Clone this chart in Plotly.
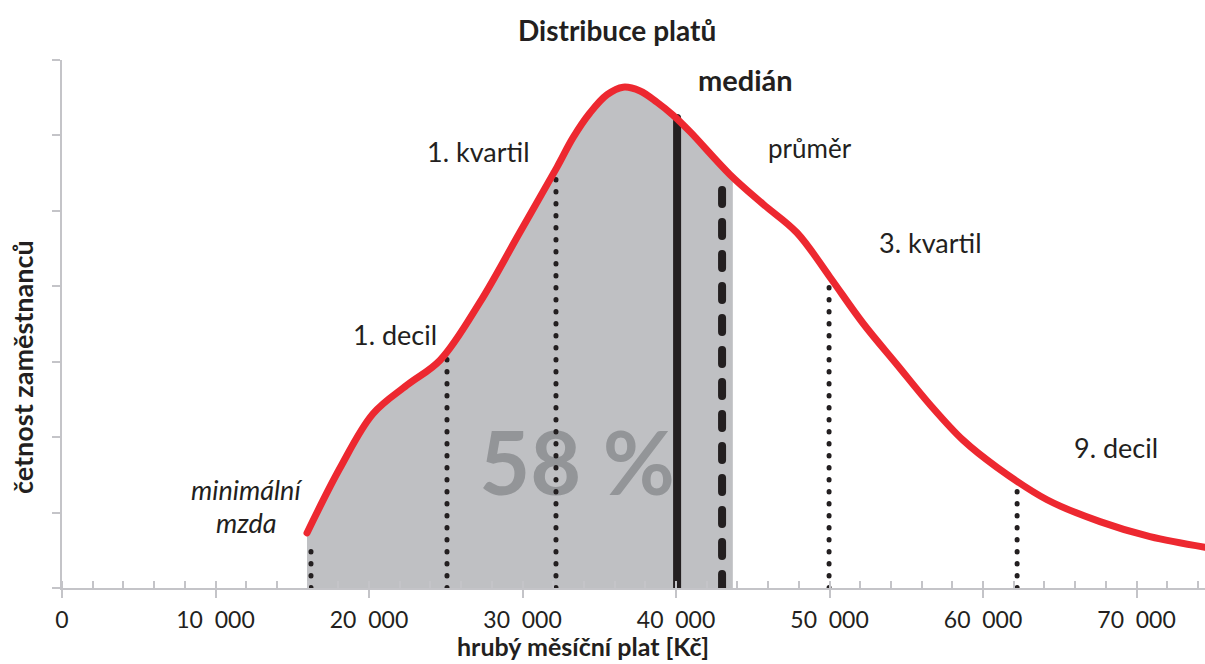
import plotly.graph_objects as go
import numpy as np

# ---- data ----
salary = [15960, 18110, 20260, 22480, 24630, 27230, 29840, 32250, 33290, 34400,
          35510, 36550, 37660, 38760, 39800, 40910, 43520, 45670, 47880, 50030,
          52180, 54400, 56550, 58700, 60910, 64170, 67620, 70880, 74460]
frequency = [73, 159, 231, 269, 302, 379, 472, 558, 597, 630,
             654, 664, 659, 644, 627, 605, 548, 509, 471, 412,
             351, 296, 243, 196, 160, 117, 88, 68, 54]

marker_names = ["minimální mzda", "1. decil", "1. kvartil", "medián", "průměr", "3. kvartil", "9. decil"]
marker_salary = [16220, 25080, 32180, 40070, 43000, 49970, 62220]
marker_height = [53, 306, 544, 623, 537, 399, 130]
marker_style = ["dot", "dot", "dot", "solid", "dash", "dot", "dot"]

fill_end = 43700          # end of shaded 58 % area
share_pct = 58

tick_vals = [0, 10000, 20000, 30000, 40000, 50000, 60000, 70000]
tick_text = ["0", "10\u00a0\u00a0000", "20\u00a0\u00a0000", "30\u00a0\u00a0000", "40\u00a0\u00a0000",
             "50\u00a0\u00a0000", "60\u00a0\u00a0000", "70\u00a0\u00a0000"]

# ---- style ----
RED = "#ed2830"
GREY_FILL = "#bfc0c3"
AXIS = "#c4c4c8"
INK = "#231f20"
FONT = "Lato"

L, T, W, H = 62, 60, 1143, 528
def pp(xpx, ypx):
    return (xpx - L) / W, (T + H - ypx) / H

fig = go.Figure()

# shaded area
sx = [x for x in salary if x < fill_end] + [fill_end]
sy = [f for x, f in zip(salary, frequency) if x < fill_end] + [float(np.interp(fill_end, salary, frequency))]
fig.add_trace(go.Scatter(x=sx, y=sy, mode="lines", line=dict(width=0, shape="spline", color=GREY_FILL),
                         fill="tozeroy", fillcolor=GREY_FILL, hoverinfo="skip", showlegend=False))

# big percentage text (behind the marker lines)
fig.add_trace(go.Scatter(x=[33550], y=[152], mode="text", text=[f"{share_pct} %"],
                         textfont=dict(family=FONT, size=88, color="#939598", weight="bold"),
                         textposition="middle center", hoverinfo="skip", showlegend=False))

# marker lines
for name, xs, hs, st in zip(marker_names, marker_salary, marker_height, marker_style):
    if st == "dot":
        line = dict(color=INK, width=5, dash="0.5px,11.5px")
    elif st == "dash":
        line = dict(color=INK, width=8, dash="14px,18px")
    else:
        line = dict(color=INK, width=8)
    fig.add_trace(go.Scatter(x=[xs, xs], y=[0, hs], mode="lines", line=line,
                             name=name, hoverinfo="name", showlegend=False))

# distribution curve
fig.add_trace(go.Scatter(x=salary, y=frequency, mode="lines",
                         line=dict(color=RED, width=7, shape="spline"),
                         name="distribuce", showlegend=False))

annots = [
    ("<b>Distribuce platů</b>", 617, 30, 28),
    ("<b>medián</b>", 745, 80, 29),
    ("1. kvartil", 478, 152, 27),
    ("průměr", 810, 148, 26),
    ("3. kvartil", 930, 243, 27),
    ("1. decil", 395, 335, 27),
    ("9. decil", 1116, 447, 27),
    ("<i>minimální</i>", 246, 489, 27),
    ("<i>mzda</i>", 246, 522, 27),
    ("<b>hrubý měsíční plat [Kč]</b>", 583, 646, 25),
]
for txt, xp, yp, sz in annots:
    ax_, ay_ = pp(xp, yp)
    fig.add_annotation(text=txt, x=ax_, y=ay_, xref="paper", yref="paper", showarrow=False,
                       xanchor="center", yanchor="middle",
                       font=dict(family=FONT, size=sz, color=INK))
ax_, ay_ = pp(22, 367)
fig.add_annotation(text="<b>četnost zaměstnanců</b>", x=ax_, y=ay_, xref="paper", yref="paper",
                   showarrow=False, textangle=-90, xanchor="center", yanchor="middle",
                   font=dict(family=FONT, size=27, color=INK))

fig.update_layout(
    width=1205, height=664, margin=dict(l=L, r=1205 - L - W, t=T, b=664 - T - H),
    paper_bgcolor="white", plot_bgcolor="white", showlegend=False,
    font=dict(family=FONT, color=INK),
    xaxis=dict(range=[0, 74460], showgrid=False, zeroline=False, showline=True, linecolor=AXIS,
               linewidth=2, ticks="outside", ticklen=8, tickwidth=2, tickcolor=AXIS,
               tickvals=tick_vals, ticktext=tick_text, ticklabelstandoff=2,
               tickfont=dict(family=FONT, size=23, color=INK),
               minor=dict(ticks="inside", ticklen=7, tickwidth=2, tickcolor=AXIS, dtick=2000, tick0=0)),
    xaxis2=dict(range=[0, 74460], overlaying="x", side="bottom", anchor="y", showgrid=False,
                zeroline=False, showline=False, ticks="inside", ticklen=8, tickwidth=2,
                tickcolor=AXIS, tickvals=tick_vals, showticklabels=False),
    yaxis=dict(range=[0, 700], showgrid=False, zeroline=False, showline=True, linecolor=AXIS,
               linewidth=2, ticks="outside", ticklen=8, tickwidth=2, tickcolor=AXIS,
               dtick=100, tick0=0, showticklabels=False),
)

post = ("document.body.style.margin='0';"
        "document.querySelectorAll('.scatterlayer path.js-line').forEach(function(p){"
        "p.style.strokeLinecap='round';});")
fig.write_html("out.html", post_script=post, config={"displayModeBar": False})
